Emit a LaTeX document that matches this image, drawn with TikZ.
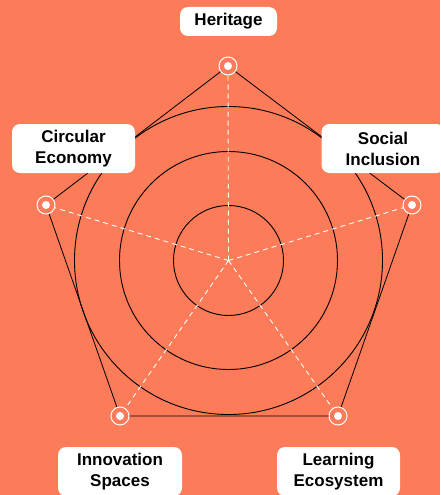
\documentclass[tikz,border=0pt]{standalone}
\usepackage{fontspec}
\setmainfont{Liberation Sans}
\definecolor{coral}{RGB}{252,123,88}
\tikzset{
  marker/.style={circle,draw=white,line width=1pt,minimum size=18pt,inner sep=0pt,
    path picture={\fill[white] (path picture bounding box.center) circle (4pt);}},
  label box/.style={fill=white,rounded corners=8pt,align=center,inner sep=0pt,
    font=\fontsize{17}{21}\selectfont\bfseries},
  spoke/.style={white,line width=0.9pt,dash pattern=on 5pt off 4pt},
  ring/.style={black,line width=0.9pt},
  edge/.style={black,line width=0.8pt}
}
\begin{document}
\begin{tikzpicture}[x=1pt,y=-1pt]
\fill[coral] (0,0) rectangle (440,495);
\useasboundingbox (0,0) rectangle (440,495);
\coordinate (c) at (228.5,260.5);
\foreach \r in {55,109,154}
  \draw[ring] (c) circle (\r);
\node[marker] (her) at (228,66) {};
\node[marker] (cir) at (46,205) {};
\node[marker] (soc) at (412,205) {};
\node[marker] (inn) at (120,416) {};
\node[marker] (lea) at (338,416) {};
\foreach \v in {her,cir,soc,inn,lea}
  \draw[spoke] (c) -- (\v);
\draw[edge] (her)--(cir) (cir)--(inn) (inn)--(lea) (lea)--(soc) (soc)--(her);
\node[label box,minimum width=97pt,minimum height=29pt] (herl) at (228.5,21.5) {Heritage};
\node[label box,minimum width=123pt,minimum height=49pt] (cirl) at (73.5,148.5) {Circular\\Economy};
\node[label box,minimum width=123pt,minimum height=49pt] (socl) at (383,148.5) {Social\\Inclusion};
\node[label box,minimum width=124pt,minimum height=49pt] (innl) at (120,471.5) {Innovation\\Spaces};
\node[label box,minimum width=123pt,minimum height=49pt] (leal) at (338.5,471.5) {Learning\\Ecosystem};
\end{tikzpicture}
\end{document}
